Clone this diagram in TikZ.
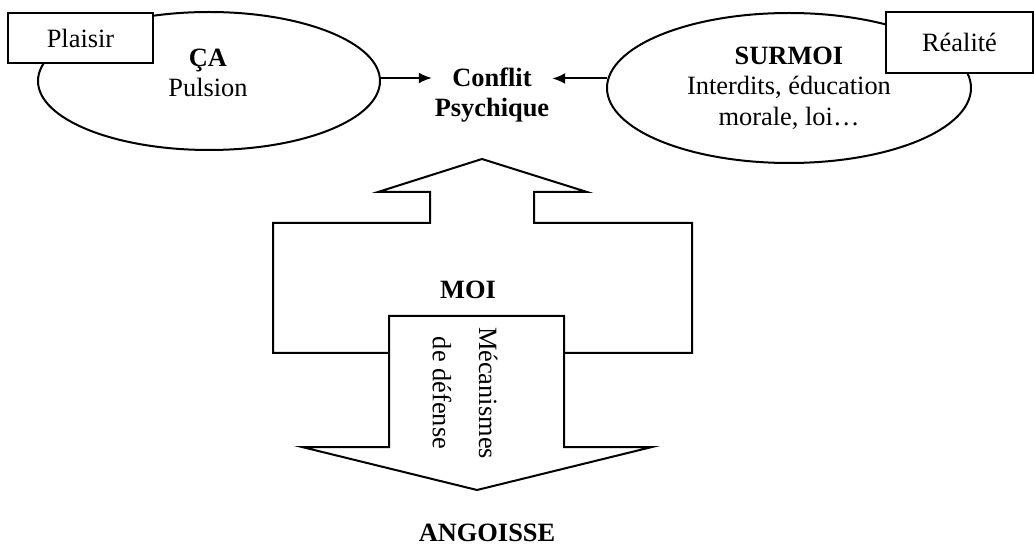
\documentclass[tikz,border=0pt]{standalone}
\usepackage{fontspec}
\setmainfont{Liberation Serif}
\usetikzlibrary{shapes.geometric,arrows.meta}

\begin{document}
\begin{tikzpicture}[x=0.5pt,y=-0.5pt,line width=1pt,>={Latex[length=6.5pt,width=5.5pt]},
  every node/.style={font=\fontsize{13.2}{15.2}\selectfont},
  gras/.style={font=\fontsize{13.2}{15.2}\selectfont\bfseries},
  bulle/.style={draw,ellipse,inner sep=0pt},
  cadre/.style={draw,fill=white,rectangle,inner sep=0pt}]
  \useasboundingbox (0,0) rectangle (1034,545);
  % les deux instances
  \node[bulle,minimum width=171pt,minimum height=69pt] (ca) at (209,81) {};
  \node[align=center] (catexte) at (208,73) {\textbf{ÇA}\\Pulsion};
  \node[bulle,minimum width=182pt,minimum height=75pt,align=center] (surmoi) at (789,88) {\textbf{SURMOI}\\Interdits, éducation\\morale, loi…};
  \node[cadre,minimum width=72.5pt,minimum height=25pt] (plaisir) at (80.5,38) {Plaisir};
  \node[cadre,minimum width=73.5pt,minimum height=30.5pt] (realite) at (959.5,42.5) {Réalité};
  \node[gras,align=center,inner sep=1pt] (conflit) at (492,95) {Conflit\\Psychique};
  \draw[->] (ca.1) -- (ca.1 -| conflit.west);
  \draw[->] (surmoi.177) -- (surmoi.177 -| conflit.east);
  % le moi
  \draw (482,159) -- (587,192) -- (534,192) -- (534,223) -- (692,223) -- (692,353)
    -- (273,353) -- (273,223) -- (430,223) -- (430,192) -- (378,192) -- cycle;
  \filldraw[fill=white] (389,316) -- (564,316) -- (564,447) -- (652,447) -- (477,490)
    -- (302,447) -- (389,447) -- cycle;
  \node[gras] (moi) at (468,290) {MOI};
  \node[align=center,rotate=-90] (defense) at (465,393) {Mécanismes\\[8pt]de défense};
  \node[gras] (angoisse) at (487,533) {ANGOISSE};
\end{tikzpicture}
\end{document}
